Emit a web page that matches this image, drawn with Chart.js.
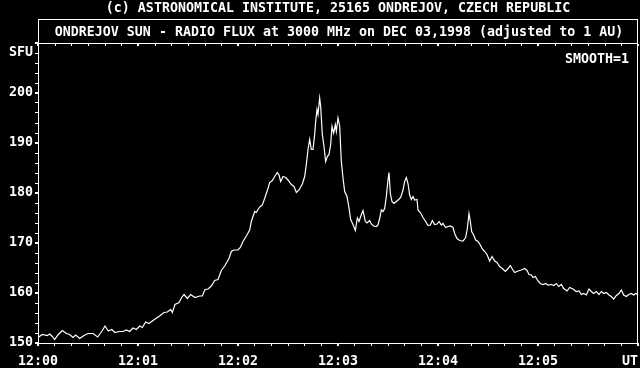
<!DOCTYPE html>
<html>
<head>
<meta charset="utf-8">
<script src="https://cdn.jsdelivr.net/npm/chart.js@4"></script>
<style>
  html, body { margin: 0; padding: 0; background: #000; }
  #wrap { width: 640px; height: 368px; }
</style>
</head>
<body>
<div id="wrap"><canvas id="flux" width="640" height="368"></canvas></div>
<script>
/* -----------------------------------------------------------
   DATA  (seconds after 12:00 UT, flux in SFU)
----------------------------------------------------------- */

const seconds = [
    0, 2.6, 5.6, 7.0, 8.6, 10.0, 12.2, 14.6, 17.0, 19.0, 21.0, 22.6, 25.0, 27.6, 30.0,
    33.0, 35.8, 38.2, 40.2, 42.2, 44.2, 46.2, 48.6, 51.0, 53.0, 55.0, 57.0, 59.0, 61.0,
    62.6, 64.6, 66.6, 69.0, 71.6, 73.0, 75.6, 77.6, 79.6, 80.6, 82.2, 84.6, 86.2, 87.6,
    89.6, 91.6, 94.2, 97.0, 98.6, 100.2, 102.0, 104.0, 106.0, 108.0, 110.0, 112.0, 114.6,
    116.0, 117.4, 120.0, 121.4, 123.0, 125.0, 127.0, 128.0, 130.0, 131.0, 132.0, 133.4,
    134.6, 136.0, 137.0, 138.0, 139.0, 140.6, 142.0, 143.6, 144.6, 145.6, 147.0, 148.6,
    150.0, 152.0, 153.6, 155.0, 156.6, 158.6, 160.0, 161.0, 162.0, 163.0, 164.0, 165.0,
    166.0, 166.6, 167.4, 168.0, 169.0, 169.6, 170.6, 171.6, 172.6, 173.6, 174.6, 175.6,
    176.4, 177.4, 178.4, 179.0, 180.0, 181.0, 182.0, 183.0, 184.0, 185.4, 186.6, 187.6,
    189.0, 190.4, 191.6, 192.6, 193.6, 195.0, 196.4, 197.4, 199.0, 200.0, 201.4, 203.0,
    204.0, 205.0, 206.0, 207.0, 208.0, 209.0, 210.0, 210.6, 211.4, 212.4, 213.6, 215.0,
    216.4, 217.6, 219.0, 220.0, 221.0, 222.0, 223.0, 224.0, 225.0, 226.0, 227.4, 228.0,
    229.4, 231.0, 232.6, 234.0, 235.4, 236.6, 238.0, 239.4, 240.6, 242.0, 243.0, 244.6,
    246.0, 247.4, 249.0, 250.0, 251.4, 253.0, 255.0, 256.6, 257.6, 258.6, 259.4, 260.2,
    261.4, 262.6, 264.0, 265.4, 266.6, 268.0, 269.4, 271.0, 272.4, 274.0, 275.4, 277.0,
    278.6, 280.4, 282.0, 283.4, 284.6, 286.0, 288.0, 290.0, 292.0, 293.4, 294.6, 296.0,
    297.0, 298.4, 300.0, 301.4, 303.0, 304.6, 306.0, 308.0, 309.4, 311.0, 312.4, 314.0,
    315.4, 317.4, 319.0, 321.0, 323.0, 324.6, 326.0, 327.4, 329.0, 330.6, 332.0, 333.4,
    335.0, 336.6, 338.0, 339.4, 341.0, 342.6, 344.0, 345.4, 347.0, 348.6, 350.0, 351.4,
    353.0, 354.4, 356.0, 357.4, 358.6, 359.6
];

const flux = [
    151.1, 151.7, 151.5, 151.8, 151.3, 150.7, 151.7, 152.5, 151.9, 151.7, 151.1, 151.6, 150.9, 151.5, 151.9,
    151.9, 151.2, 152.3, 153.4, 152.4, 152.7, 152.1, 152.3, 152.3, 152.6, 152.3, 153.0, 152.7, 153.4,
    153.1, 154.2, 153.9, 154.5, 155.1, 155.4, 156.1, 156.2, 156.7, 156.1, 157.7, 158.1, 159.1, 159.7,
    158.9, 159.7, 159.1, 159.4, 159.4, 160.7, 160.8, 161.4, 162.5, 162.7, 164.5, 165.4, 166.9,
    168.3, 168.6, 168.6, 169.1, 170.3, 171.4, 172.6, 174.3, 176.3, 176.1, 176.7, 177.3,
    177.6, 178.9, 179.9, 180.9, 182.1, 182.5, 183.3, 184.1, 183.6, 182.3, 183.3, 183.1,
    182.6, 181.7, 181.3, 180.1, 180.6, 181.8, 183.3, 185.7, 188.7, 190.7, 188.7, 188.7,
    191.7, 194.3, 196.7, 195.7, 199.0, 197.3, 191.7, 189.3, 186.3, 187.3, 187.7, 189.7,
    193.3, 192.0, 193.7, 192.3, 195.0, 193.4, 186.3, 183.0, 180.3, 179.3, 177.0, 174.7,
    173.7, 172.5, 175.0, 174.3, 175.3, 176.5, 174.3, 174.0, 174.5, 173.8, 173.4, 173.3,
    173.6, 174.9, 176.6, 176.3, 176.9, 179.3, 182.6, 184.1, 179.9, 178.3, 177.9, 178.3,
    178.7, 179.1, 180.6, 182.3, 183.1, 181.9, 179.6, 178.7, 179.3, 178.6, 178.7, 176.6,
    176.1, 175.1, 174.3, 173.5, 173.6, 174.5, 173.7, 173.8, 174.3, 173.6, 173.9, 173.1,
    173.3, 173.4, 173.1, 171.9, 170.9, 170.5, 170.4, 171.1, 172.9, 175.9, 174.3, 172.3,
    171.6, 170.6, 170.3, 169.6, 168.8, 168.3, 167.7, 166.4, 167.3, 166.4, 166.1, 165.3,
    164.9, 164.3, 164.9, 165.5, 164.8, 164.1, 164.4, 164.6, 164.9, 164.5, 163.7, 163.6,
    163.1, 163.3, 162.4, 161.9, 161.7, 161.9, 161.6, 161.7, 161.5, 161.9, 161.3, 161.7,
    160.9, 160.4, 161.1, 160.8, 160.3, 160.4, 159.7, 159.9, 159.6, 160.8, 160.3, 159.9,
    160.3, 159.7, 160.3, 159.9, 160.1, 159.6, 159.3, 158.8, 159.5, 159.9, 160.6, 159.6,
    159.3, 159.7, 159.9, 159.6, 159.9, 159.7
];

const minuteLabels = ["12:00", "12:01", "12:02", "12:03", "12:04", "12:05"];
const sfuLabels = { 150: "150", 160: "160", 170: "170", 180: "180", 190: "190", 200: "200", 208: "SFU" };

const creditText = "(c) ASTRONOMICAL INSTITUTE, 25165 ONDREJOV, CZECH REPUBLIC";
const titleText = "ONDREJOV SUN - RADIO FLUX at 3000 MHz on DEC 03,1998 (adjusted to 1 AU)";
const smoothText = "SMOOTH=1";
const unitText = "UT";

/* -----------------------------------------------------------
   LOOK
----------------------------------------------------------- */

const FONT = { family: "'DejaVu Sans Mono', 'Liberation Mono', monospace", size: 13.3, weight: "bold" };
const fontStr = `bold ${FONT.size}px ${FONT.family}`;

/* header box, right border, inner top ticks, texts */
const frame = {
    id: "frame",
    afterDraw: (chart) => {
        const ctx = chart.ctx;
        const a = chart.chartArea;
        const xs = chart.scales.x;
        ctx.save();
        ctx.strokeStyle = "#fff";
        ctx.fillStyle = "#fff";
        ctx.lineWidth = 1;

        ctx.beginPath();
        ctx.moveTo(a.left, 19.5);
        ctx.lineTo(a.right, 19.5);
        ctx.moveTo(a.left, a.top + 0.5);
        ctx.lineTo(a.right, a.top + 0.5);
        ctx.moveTo(a.left + 0.5, 19);
        ctx.lineTo(a.left + 0.5, a.top);
        ctx.moveTo(a.right - 0.5, 19);
        ctx.lineTo(a.right - 0.5, a.bottom + 1);
        ctx.stroke();

        xs.ticks.forEach(t => {
            const px = Math.round(xs.getPixelForValue(t.value));
            const w = t.value % 60 === 0 ? 2 : 1;
            ctx.fillRect(px - (w > 1 ? 1 : 0), a.top + 1, w, 2);
        });

        ctx.font = fontStr;
        ctx.textBaseline = "alphabetic";
        ctx.textAlign = "center";
        ctx.fillText(creditText, 338, 12);
        ctx.fillText(titleText, 339, 36);
        ctx.textAlign = "right";
        ctx.fillText(smoothText, 629, 63);
        ctx.fillText(unitText, 638, 365);
        ctx.restore();
    }
};

/* -----------------------------------------------------------
   CHART
----------------------------------------------------------- */

const points = seconds.map((s, i) => ({ x: s, y: flux[i] }));

new Chart(document.getElementById("flux").getContext("2d"), {
    type: "line",
    data: {
        datasets: [{
            data: points,
            borderColor: "#fff",
            borderWidth: 1.2,
            pointRadius: 0,
            tension: 0,
            fill: false
        }]
    },
    options: {
        responsive: false,
        animation: false,
        devicePixelRatio: 1,
        layout: { padding: { top: 43, right: 2, left: 0, bottom: 0 } },
        plugins: { legend: { display: false }, tooltip: { enabled: false } },
        scales: {
            x: {
                type: "linear",
                min: 0,
                max: 360,
                afterFit: (s) => { s.height = 25; s.paddingLeft = 0; s.paddingRight = 0; },
                ticks: {
                    stepSize: 10,
                    autoSkip: false,
                    maxRotation: 0,
                    color: "#fff",
                    font: FONT,
                    padding: 8,
                    callback: (v) => (v % 60 === 0 && v < 360) ? minuteLabels[v / 60] : ""
                },
                grid: {
                    drawOnChartArea: false,
                    color: "#fff",
                    tickLength: 3,
                    lineWidth: (c) => (c.tick && c.tick.value % 60 === 0) ? 2 : 1
                },
                border: { color: "#fff", width: 1 }
            },
            y: {
                min: 150,
                max: 210,
                afterFit: (s) => { s.width = 38; s.paddingTop = 0; s.paddingBottom = 0; },
                ticks: {
                    stepSize: 2,
                    autoSkip: false,
                    color: "#fff",
                    font: FONT,
                    padding: 2,
                    callback: (v) => sfuLabels[v] || ""
                },
                grid: {
                    drawOnChartArea: false,
                    color: "#fff",
                    tickLength: 3,
                    lineWidth: (c) => (c.tick && c.tick.value % 10 === 0) ? 2 : 1
                },
                border: { color: "#fff", width: 1 }
            }
        }
    },
    plugins: [frame]
});
</script>
</body>
</html>
